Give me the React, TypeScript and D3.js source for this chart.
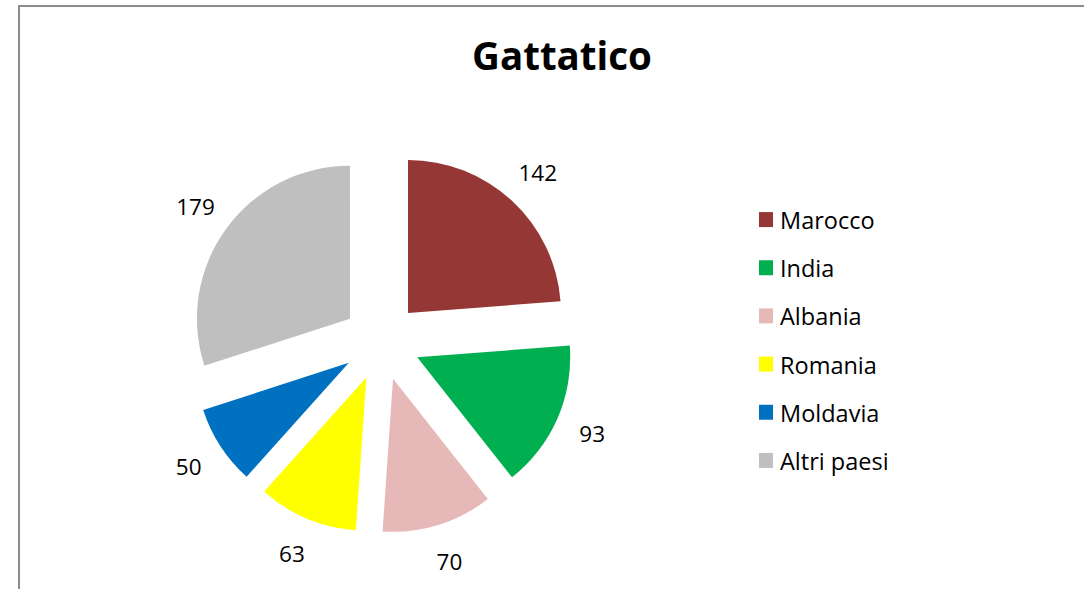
import React from "react";
import * as d3 from "d3";

const categories = ["Marocco", "India", "Albania", "Romania", "Moldavia", "Altri paesi"];
const values = [142, 93, 70, 63, 50, 179];
const colors = ["#953735", "#00b050", "#e6b9b8", "#ffff00", "#0070c0", "#bfbfbf"];
const title = "Gattatico";

export default function App() {
  const W = 1084;
  const H = 589;
  const cx = 381.5;
  const cy = 341.6;
  const R = 153;
  const explode = 39;
  const labelR = 230;
  const font = "'Open Sans', sans-serif";

  const data = categories.map((c, i) => ({ c, v: values[i], color: colors[i] }));
  const pie = d3.pie<any>().sort(null).value((d: any) => d.v).startAngle(0).endAngle(2 * Math.PI);
  const arcs = pie(data);
  const arc = d3.arc<any>().innerRadius(0).outerRadius(R);

  const legendY = d3.scaleBand<string>().domain(categories).range([196, 485]);

  return (
    <div style={{ position: "absolute", left: 0, top: 0 }}>
      <svg width={W} height={H} style={{ display: "block", background: "#fff" }}>
        <rect x={19} y={6} width={W + 20} height={H + 20} fill="#fff" stroke="#8c8c8c" strokeWidth={2} />
        <text x={562} y={70} textAnchor="middle" fontFamily={font} fontWeight={700} fontSize={38.5} fill="#000">
          {title}
        </text>
        <g transform={`translate(${cx},${cy})`}>
          {arcs.map((a, i) => {
            const mid = (a.startAngle + a.endAngle) / 2;
            const dx = Math.sin(mid) * explode;
            const dy = -Math.cos(mid) * explode;
            return (
              <path key={i} d={arc(a) as string} transform={`translate(${dx},${dy})`} fill={a.data.color} />
            );
          })}
          {arcs.map((a, i) => {
            const mid = (a.startAngle + a.endAngle) / 2;
            const x = Math.sin(mid) * labelR;
            const y = -Math.cos(mid) * labelR;
            return (
              <text key={"l" + i} x={x} y={y} textAnchor="middle" dominantBaseline="central" fontFamily={font} fontSize={22.5} fill="#000">
                {a.data.v}
              </text>
            );
          })}
        </g>
        {categories.map((c, i) => {
          const y = (legendY(c) as number) + legendY.bandwidth() / 2;
          return (
            <g key={"lg" + i}>
              <rect x={759} y={y - 8} width={14} height={15} fill={colors[i]} />
              <text x={780} y={y} dominantBaseline="central" fontFamily={font} fontSize={23.5} fill="#000">
                {c}
              </text>
            </g>
          );
        })}
      </svg>
    </div>
  );
}
